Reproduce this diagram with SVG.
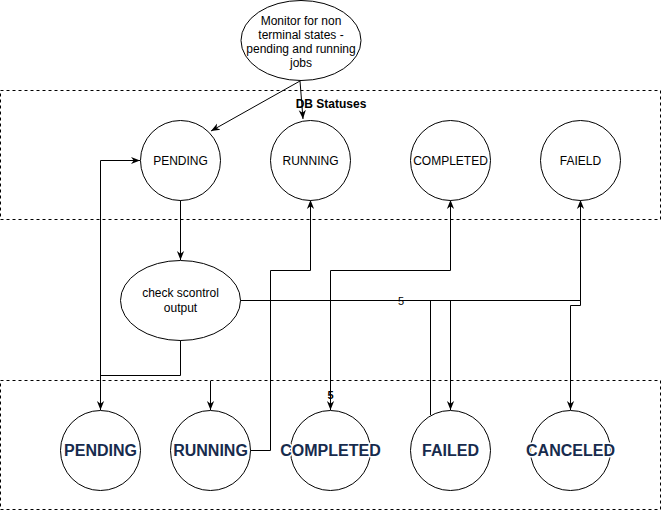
<svg xmlns="http://www.w3.org/2000/svg" width="661" height="511" viewBox="0 0 661 511">
<style>
.bg{fill:#ffffff}
.box{fill:none;stroke:#000;stroke-width:1;stroke-dasharray:3 3}
.node ellipse{fill:#fff;stroke:#000;stroke-width:1}
.t{font-family:"Liberation Sans",Arial,sans-serif;font-size:12px;fill:#000;text-anchor:middle}
.tb{font-family:"Liberation Sans",Arial,sans-serif;font-size:16px;font-weight:bold;fill:#172B4D;text-anchor:middle;stroke:#fff;stroke-width:3;paint-order:stroke;stroke-linejoin:round}
.title{font-family:"Liberation Sans",Arial,sans-serif;font-size:12px;font-weight:bold;fill:#000;text-anchor:middle}
.e{fill:none;stroke:#000;stroke-width:1}
.ea{fill:none;stroke:#000;stroke-width:1;marker-end:url(#arr)}
.lbl{font-family:"Liberation Sans",Arial,sans-serif;font-size:11px;fill:#000;text-anchor:middle}
</style>
<defs>
<marker id="arr" viewBox="0 0 10 10" refX="10" refY="5" markerWidth="9" markerHeight="9" markerUnits="userSpaceOnUse" orient="auto">
<path d="M0,1 L10,5 L0,9 L3,5 z" fill="#000"/>
</marker>
</defs>
<rect class="bg" x="0" y="0" width="661" height="511"/>

<g id="db-statuses">
<rect class="box" x="0.5" y="90.5" width="660" height="129"/>
<text class="title" x="331" y="108">DB Statuses</text>
</g>
<g id="scontrol-statuses">
<rect class="box" x="0.5" y="380.5" width="660" height="129"/>
</g>

<g id="connectors">
<path class="ea" d="M300,81 L211,131"/>
<path class="ea" d="M300,81 L303,119"/>
<path class="ea" d="M180.5,200 L180.5,260"/>
<path class="ea" d="M180.5,340 L180.5,375.5 L100.5,375.5 L100.5,410"/>
<path class="ea" d="M100.5,410 L100.5,160.5 L140,160.5"/>
<path class="ea" d="M210.5,381 L210.5,410"/>
<path class="ea" d="M250,450.5 L270.5,450.5 L270.5,270.5 L310.5,270.5 L310.5,200"/>
<path class="ea" d="M240,300.5 L330.5,300.5 L330.5,410"/>
<path class="ea" d="M330.5,410 L330.5,270.5 L450.5,270.5 L450.5,200"/>
<path class="ea" d="M240,300.5 L450.5,300.5 L450.5,410"/>
<path class="ea" d="M430.5,415 L430.5,300.5 L580.5,300.5 L580.5,200"/>
<path class="ea" d="M240,300.5 L580.5,300.5 L580.5,305.5 L570.5,305.5 L570.5,410"/>
<text class="lbl" x="401" y="304.5">5</text>
<text class="lbl" x="330.5" y="399" font-weight="bold">5</text>
</g>

<g id="monitor" class="node">
<ellipse cx="301" cy="40.5" rx="60" ry="40"/>
<text class="t" x="301" y="24.5">Monitor for non</text>
<text class="t" x="301" y="38.5">terminal states -</text>
<text class="t" x="301" y="53">pending and running</text>
<text class="t" x="301" y="67">jobs</text>
</g>

<g id="db-pending" class="node">
<ellipse cx="180.5" cy="160.5" rx="40" ry="40"/>
<text class="t" x="180.5" y="165">PENDING</text>
</g>
<g id="db-running" class="node">
<ellipse cx="310.5" cy="160.5" rx="40" ry="40"/>
<text class="t" x="310.5" y="165">RUNNING</text>
</g>
<g id="db-completed" class="node">
<ellipse cx="450.5" cy="160.5" rx="40" ry="40"/>
<text class="t" x="450.5" y="165">COMPLETED</text>
</g>
<g id="db-faield" class="node">
<ellipse cx="580.5" cy="160.5" rx="40" ry="40"/>
<text class="t" x="580.5" y="165">FAIELD</text>
</g>

<g id="check-scontrol" class="node">
<ellipse cx="180.5" cy="300.5" rx="60" ry="40"/>
<text class="t" x="180.5" y="297">check scontrol</text>
<text class="t" x="180.5" y="312">output</text>
</g>

<g id="s-pending" class="node">
<ellipse cx="100.5" cy="450.5" rx="40" ry="40"/>
<text class="tb" x="100.5" y="456">PENDING</text>
</g>
<g id="s-running" class="node">
<ellipse cx="210.5" cy="450.5" rx="40" ry="40"/>
<text class="tb" x="210.5" y="456">RUNNING</text>
</g>
<g id="s-completed" class="node">
<ellipse cx="330.5" cy="450.5" rx="40" ry="40"/>
<text class="tb" x="330.5" y="456">COMPLETED</text>
</g>
<g id="s-failed" class="node">
<ellipse cx="450.5" cy="450.5" rx="40" ry="40"/>
<text class="tb" x="450.5" y="456">FAILED</text>
</g>
<g id="s-canceled" class="node">
<ellipse cx="570.5" cy="450.5" rx="40" ry="40"/>
<text class="tb" x="570.5" y="456">CANCELED</text>
</g>
</svg>
